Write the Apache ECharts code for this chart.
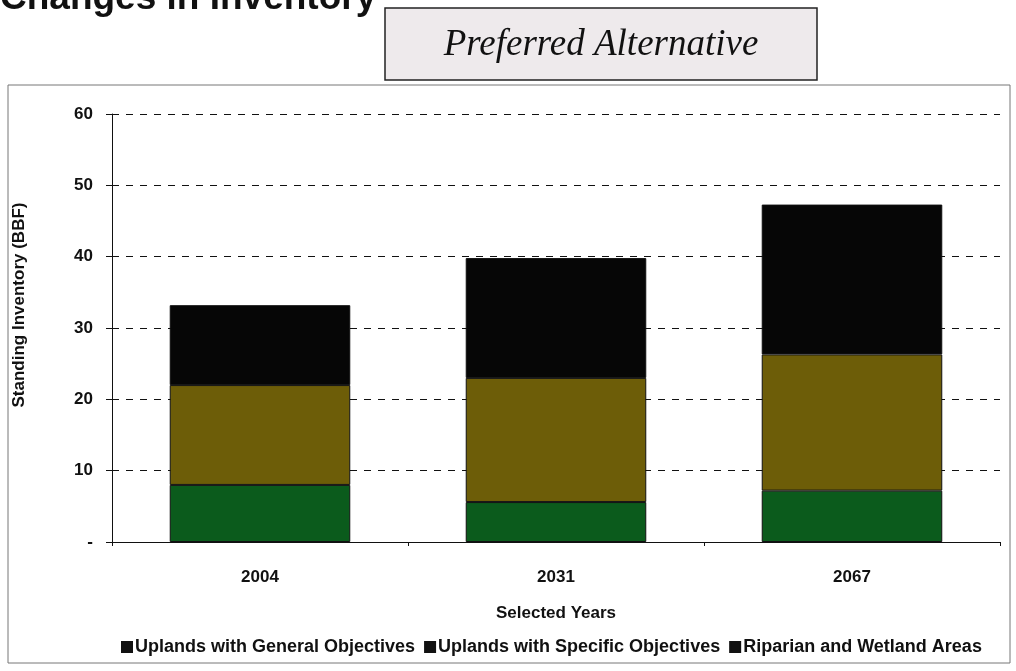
<!DOCTYPE html>
<html><head><meta charset="utf-8">
<script src="https://cdn.jsdelivr.net/npm/echarts@6/dist/echarts.min.js"></script>
<style>html,body{margin:0;padding:0;background:#fff}#c{width:1016px;height:671px}</style>
</head><body><div id="c"></div>
<script>
const categories = ['2004', '2031', '2067'];
const seriesNames = ['Uplands with General Objectives', 'Uplands with Specific Objectives', 'Riparian and Wetland Areas'];
const riparian = [8.0, 5.6, 7.2];
const specific = [14.0, 17.4, 19.1];
const general = [11.2, 16.8, 21.0];
const yTicks = [0, 10, 20, 30, 40, 50, 60];

const colors = { general: '#060606', specific: '#6d5d08', riparian: '#0b5b1c' };
const chart = echarts.init(document.getElementById('c'), null, { renderer: 'canvas' });
const font = '"Liberation Sans", Arial, sans-serif';
chart.setOption({
  animation: false,
  backgroundColor: '#fff',
  graphic: [
    { type: 'rect', shape: { x: 8, y: 85, width: 1002, height: 578 }, style: { fill: 'none', stroke: '#777', lineWidth: 1 }, z: 0 },
    { type: 'text', left: 0, top: -20, style: { text: 'Changes in Inventory', font: 'bold 37px ' + font, fill: '#111' } },
    { type: 'rect', shape: { x: 385, y: 8, width: 432, height: 72 }, style: { fill: '#eeeaec', stroke: '#222', lineWidth: 1.5 } },
    { type: 'text', x: 601, y: 45, style: { text: 'Preferred Alternative', font: 'italic 37px "Liberation Serif", "Times New Roman", serif', fill: '#111', align: 'center', verticalAlign: 'middle' } },
    { type: 'text', x: 19, y: 305, rotation: Math.PI / 2, style: { text: 'Standing Inventory (BBF)', font: 'bold 17px ' + font, fill: '#111', align: 'center', verticalAlign: 'middle' } }
  ],
  grid: { left: 112, right: 16, top: 114, bottom: 129 },
  legend: {
    bottom: 10, left: 116, itemWidth: 10, itemHeight: 10, itemGap: 9,
    icon: 'rect',
    data: seriesNames.map(n => ({ name: n, itemStyle: { color: '#111' } })),
    textStyle: { fontFamily: font, fontSize: 18, fontWeight: 'bold', color: '#111', padding: [0, 0, 0, -2] }
  },
  xAxis: {
    type: 'category', data: categories,
    name: 'Selected Years', nameLocation: 'middle', nameGap: 63,
    nameTextStyle: { fontFamily: font, fontSize: 17, fontWeight: 'bold', color: '#111' },
    axisLine: { lineStyle: { color: '#111', width: 1 } },
    axisTick: { show: true, length: 4, lineStyle: { color: '#111' } },
    axisLabel: { margin: 27, fontFamily: font, fontSize: 17, fontWeight: 'bold', color: '#111' }
  },
  yAxis: {
    type: 'value', min: 0, max: 60, interval: 10,
    axisLine: { show: true, lineStyle: { color: '#111', width: 1 } },
    axisTick: { show: true, length: 6, lineStyle: { color: '#111' } },
    axisLabel: { margin: 19, fontFamily: font, fontSize: 17, fontWeight: 'bold', color: '#111',
      formatter: v => (yTicks.includes(v) ? (v === 0 ? '-' : String(v)) : '') },
    splitLine: { show: true, lineStyle: { color: '#111', type: [7, 7], width: 1 } }
  },
  series: [
    { name: seriesNames[2], type: 'bar', stack: 's', data: riparian, barWidth: '61%', itemStyle: { color: colors.riparian, borderColor: '#111', borderWidth: 1 } },
    { name: seriesNames[1], type: 'bar', stack: 's', data: specific, barWidth: '61%', itemStyle: { color: colors.specific, borderColor: '#111', borderWidth: 1 } },
    { name: seriesNames[0], type: 'bar', stack: 's', data: general, barWidth: '61%', itemStyle: { color: colors.general, borderColor: '#111', borderWidth: 1 } }
  ]
});
</script></body></html>
